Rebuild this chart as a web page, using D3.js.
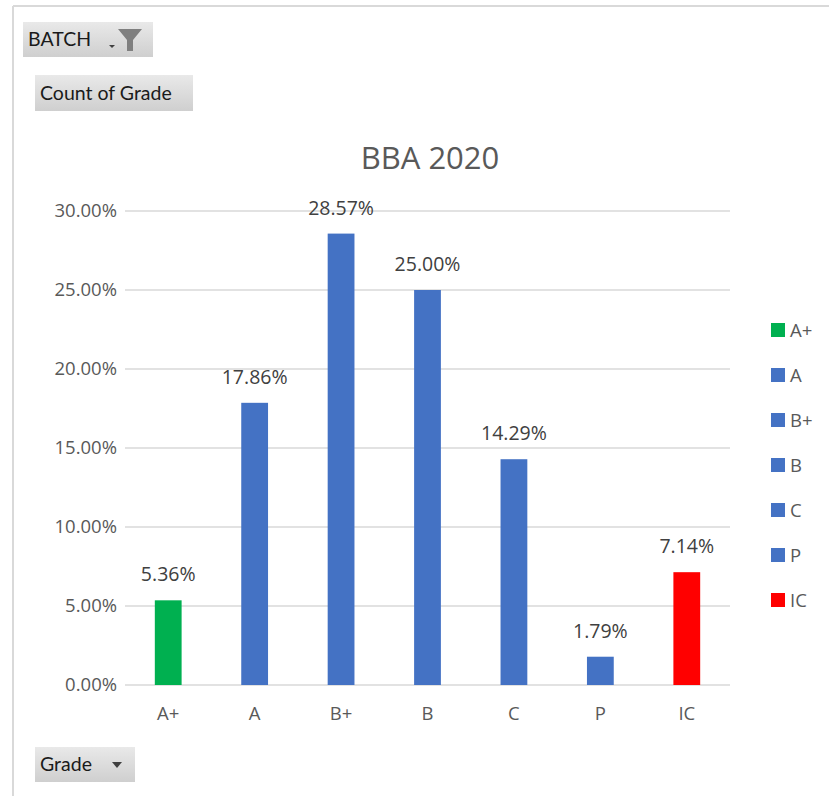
<!DOCTYPE html>
<html><head><meta charset="utf-8">
<script src="https://cdn.jsdelivr.net/npm/d3@7"></script>
<style>
body{margin:0;background:#fff;}
</style></head>
<body><svg id="c" width="829" height="796"></svg>
<script>
const categories = ["A+","A","B+","B","C","P","IC"];
const values = [0.0536,0.1786,0.2857,0.25,0.1429,0.0179,0.0714];
const labels = ["5.36%","17.86%","28.57%","25.00%","14.29%","1.79%","7.14%"];
const colors = ["#00B050","#4472C4","#4472C4","#4472C4","#4472C4","#4472C4","#FF0000"];
const yTicks = [0,0.05,0.10,0.15,0.20,0.25,0.30];
const title = "BBA 2020";

const F = "Open Sans";
const svg = d3.select("#c");
const defs = svg.append("defs");
const g1 = defs.append("linearGradient").attr("id","btn").attr("x1",0).attr("y1",0).attr("x2",0).attr("y2",1);
g1.append("stop").attr("offset","0%").attr("stop-color","#e9e9e9");
g1.append("stop").attr("offset","100%").attr("stop-color","#cfcfcf");

svg.append("line").attr("x1",13).attr("x2",829).attr("y1",6).attr("y2",6).attr("stroke","#d9d9d9").attr("stroke-width",2);
svg.append("line").attr("x1",13).attr("x2",13).attr("y1",6).attr("y2",796).attr("stroke","#d9d9d9").attr("stroke-width",2);

function button(x,y,w,h,txt){
  svg.append("rect").attr("x",x).attr("y",y).attr("width",w).attr("height",h).attr("fill","url(#btn)");
  svg.append("text").attr("x",x+5).attr("y",y+h/2+6.5).attr("font-size",19.5).attr("fill","#1a1a1a")
    .attr("font-family","Lato").text(txt);
}
button(23,22,130,35,"BATCH");
svg.append("path").attr("d","M118,29 L142,29 L133,40 L133,51 L127,51 L127,40 Z").attr("fill","#7f7f7f");
svg.append("path").attr("d","M109,45 L115,45 L112,48 Z").attr("fill","#404040");
button(35,75,158,36,"Count of Grade");
button(35,747,100,35,"Grade");
svg.append("path").attr("d","M112,762 L122,762 L117,768 Z").attr("fill","#404040");

const margin = {left:125,right:730,top:211,bottom:685};
const x = d3.scaleBand().domain(categories).range([margin.left,margin.right]).paddingInner(0.69).paddingOuter(0.345);
const y = d3.scaleLinear().domain([0,0.30]).range([margin.bottom,margin.top]);

svg.append("g").selectAll("line").data(yTicks).join("line")
  .attr("x1",margin.left).attr("x2",margin.right)
  .attr("y1",d=>y(d)).attr("y2",d=>y(d))
  .attr("stroke","#d9d9d9").attr("stroke-width",1.5);

const yAxis = d3.axisLeft(y).tickValues(yTicks).tickFormat(d=>(d*100).toFixed(2)+"%").tickSize(0).tickPadding(8);
const ya = svg.append("g").attr("transform",`translate(${margin.left},0)`).call(yAxis)
  .attr("font-family",F).attr("font-size",18.5);
ya.select(".domain").remove();
ya.selectAll("text").attr("fill","#595959");

const xAxis = d3.axisBottom(x).tickSize(0).tickPadding(22);
const xa = svg.append("g").attr("transform",`translate(0,${margin.bottom})`).call(xAxis)
  .attr("font-family",F).attr("font-size",18.5);
xa.select(".domain").remove();
xa.selectAll("text").attr("fill","#595959");

svg.append("g").selectAll("rect").data(categories).join("rect")
  .attr("x",d=>x(d)).attr("width",x.bandwidth())
  .attr("y",(d,i)=>y(values[i])).attr("height",(d,i)=>y(0)-y(values[i]))
  .attr("fill",(d,i)=>colors[i]);

svg.append("g").attr("font-family",F).attr("font-size",19.5).selectAll("text").data(categories).join("text")
  .attr("x",d=>x(d)+x.bandwidth()/2).attr("y",(d,i)=>y(values[i])-19)
  .attr("text-anchor","middle").attr("fill","#404040")
  .text((d,i)=>labels[i]);

svg.append("text").attr("x",430).attr("y",169).attr("text-anchor","middle")
  .attr("font-family",F).attr("font-size",31).attr("fill","#595959").text(title);

const lg = svg.append("g").attr("font-family",F).attr("font-size",18.5);
categories.forEach((c,i)=>{
  const yy = 330 + i*45;
  lg.append("rect").attr("x",771).attr("y",yy-7).attr("width",14).attr("height",14).attr("fill",colors[i]);
  lg.append("text").attr("x",790).attr("y",yy+6.5).attr("fill","#595959").text(c);
});
</script></body></html>
